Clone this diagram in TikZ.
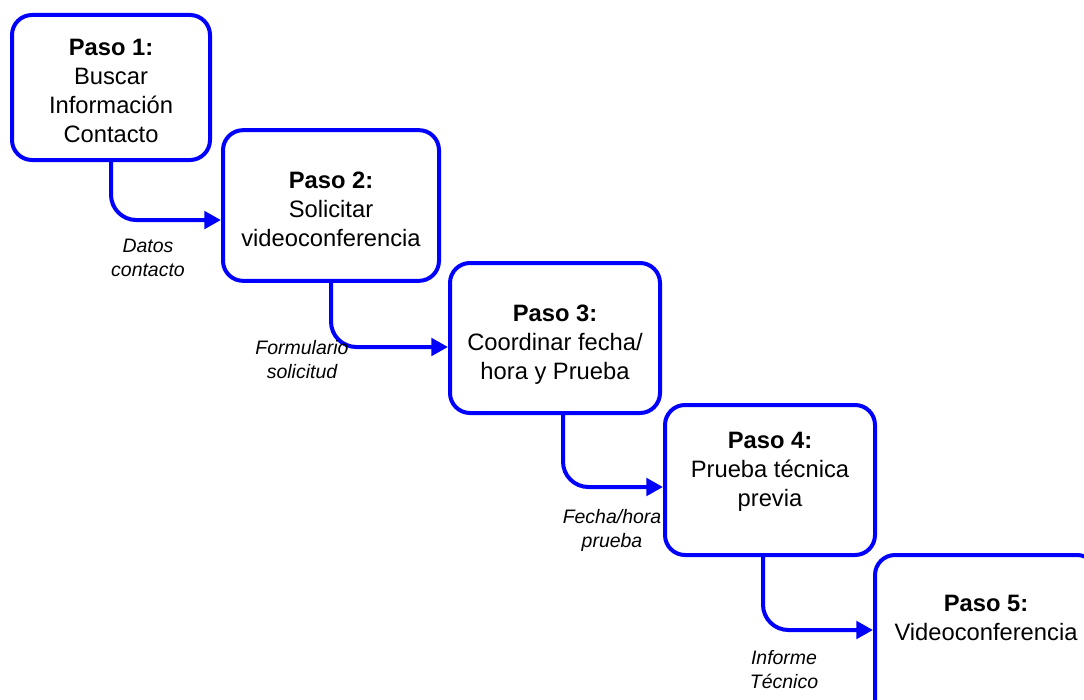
\documentclass[tikz,border=0pt]{standalone}
\usepackage{fontspec}
\setmainfont{Liberation Sans}
\usepackage{xcolor}
\usetikzlibrary{arrows.meta}

\definecolor{flowblue}{RGB}{0,0,255}
\tikzset{
    paso/.style={draw=flowblue, line width=3pt, rounded corners=15pt, inner sep=0pt},
    pasotext/.style={align=center, inner sep=0pt, font=\fontsize{17.8}{21.75}\selectfont},
    flow/.style={draw=flowblue, line width=3pt, rounded corners=19pt,
        -{Triangle[length=12.5pt,width=13pt]}},
    dato/.style={align=center, font=\fontsize{14.6}{18}\selectfont\itshape}
}

\begin{document}
\begin{tikzpicture}[x=0.75pt, y=-0.75pt]
                \clip (0,0) rectangle (1084,699);
                % pasos
                \node[paso, minimum width=148.5pt, minimum height=108.75pt] (p1) at (111,87.5) {};
                \node[paso, minimum width=162pt, minimum height=113pt] (p2) at (331,205.5) {};
                \node[paso, minimum width=157.5pt, minimum height=112.5pt] (p3) at (555,338) {};
                \node[paso, minimum width=157.5pt, minimum height=112.5pt] (p4) at (770,480) {};
                \node[paso, minimum width=166.5pt, minimum height=127.5pt] (p5) at (986,640) {};
                \node[pasotext] (t1) at (111,91) {\textbf{Paso 1:}\\Buscar\\Información\\Contacto};
                \node[pasotext] (t2) at (331,209.5) {\textbf{Paso 2:}\\Solicitar\\videoconferencia};
                \node[pasotext] (t3) at (555,345) {\textbf{Paso 3:}\\Coordinar fecha/\\hora y Prueba};
                \node[pasotext] (t4) at (770,472) {\textbf{Paso 4:}\\Prueba técnica\\previa};
                \node[pasotext] (t5) at (986,618) {\textbf{Paso 5:}\\Videoconferencia};
                % flujos
                \draw[flow] (p1.south) |- ([yshift=-10.9pt]p2.west);
                \draw[flow] (p2.south) |- ([yshift=-6.75pt]p3.west);
                \draw[flow] ([xshift=6pt]p3.south) |- ([yshift=-5.25pt]p4.west);
                \draw[flow] ([xshift=-5.25pt]p4.south) |- ([yshift=7.5pt]p5.west);
                % datos
                \node[dato] (d1) at (148,258) {Datos\\contacto};
                \node[dato] (d2) at (302,360) {Formulario\\solicitud};
                \node[dato] (d3) at (612,530) {Fecha/hora\\prueba};
                \node[dato] (d4) at (784,670) {Informe\\Técnico};
            \end{tikzpicture}
\end{document}
